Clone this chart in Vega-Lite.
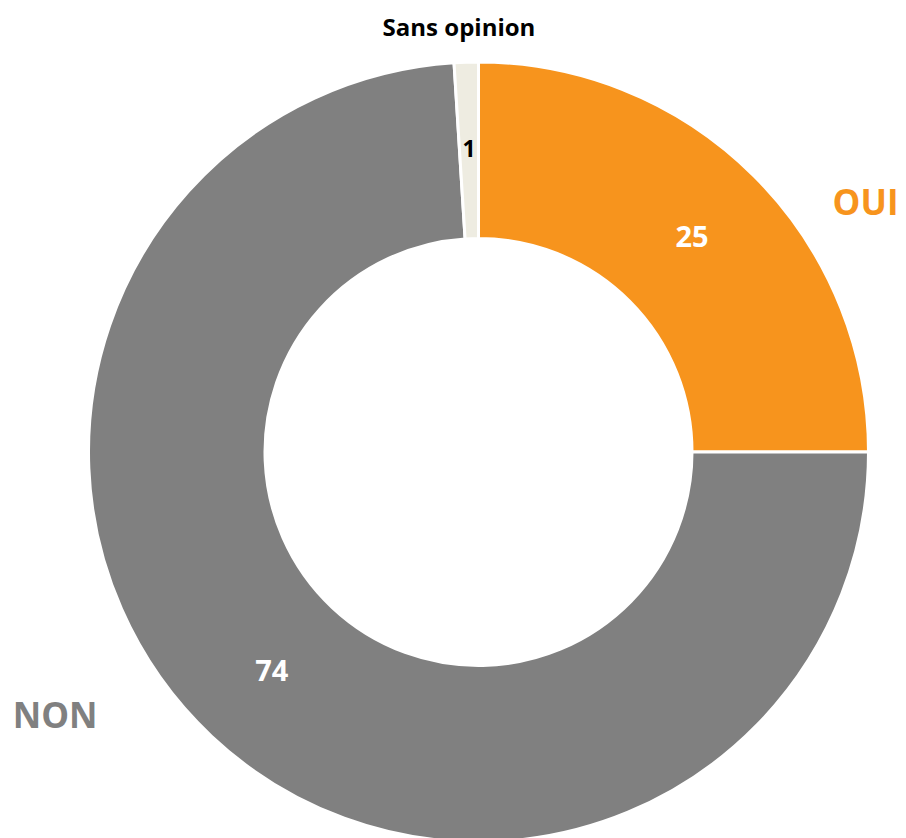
{
  "$schema": "https://vega.github.io/schema/vega-lite/v6.json",
  "autosize": "none",
  "width": 855,
  "height": 772,
  "padding": {"left": 51, "top": 66, "right": 0, "bottom": 0},
  "background": "white",
  "view": {"stroke": null},
  "data": {
    "values": [
      {"label": "OUI", "value": 25, "rang": 1},
      {"label": "NON", "value": 74, "rang": 2},
      {"label": "Sans opinion", "value": 1, "rang": 3}
    ]
  },
  "encoding": {
    "theta": {"field": "value", "type": "quantitative", "stack": true},
    "order": {"field": "rang", "type": "quantitative"}
  },
  "layer": [
    {
      "mark": {"type": "arc", "outerRadius": 390, "innerRadius": 213.5, "stroke": "white", "strokeWidth": 3},
      "encoding": {
        "color": {
          "field": "label",
          "type": "nominal",
          "scale": {"domain": ["OUI", "NON", "Sans opinion"], "range": ["#F7941D", "#808080", "#EEECE1"]},
          "legend": null
        }
      }
    },
    {
      "mark": {"type": "text", "radius": 302, "font": "Open Sans", "fontWeight": "bold", "fontSize": 29, "baseline": "middle", "align": "center"},
      "encoding": {
        "text": {"field": "value", "type": "quantitative"},
        "color": {"condition": {"test": "datum.label === 'Sans opinion'", "value": "black"}, "value": "white"},
        "size": {"condition": {"test": "datum.label === 'Sans opinion'", "value": 23}, "value": 29}
      }
    },
    {
      "mark": {"type": "text", "radius": 430, "dx": 83, "dy": 56, "font": "Open Sans", "fontWeight": "bold", "fontSize": 35, "baseline": "middle", "align": "center", "color": "#F7941D"},
      "encoding": {"text": {"condition": {"test": "datum.label === 'OUI'", "field": "label"}, "value": ""}}
    },
    {
      "mark": {"type": "text", "radius": 430, "dx": -129, "dy": -48, "font": "Open Sans", "fontWeight": "bold", "fontSize": 35, "baseline": "middle", "align": "center", "color": "#808080"},
      "encoding": {"text": {"condition": {"test": "datum.label === 'NON'", "field": "label"}, "value": ""}}
    },
    {
      "mark": {"type": "text", "radius": 430, "dx": -6, "dy": 7, "font": "Open Sans", "fontWeight": "bold", "fontSize": 24, "baseline": "middle", "align": "center", "color": "black"},
      "encoding": {"text": {"condition": {"test": "datum.label === 'Sans opinion'", "field": "label"}, "value": ""}}
    }
  ]
}
